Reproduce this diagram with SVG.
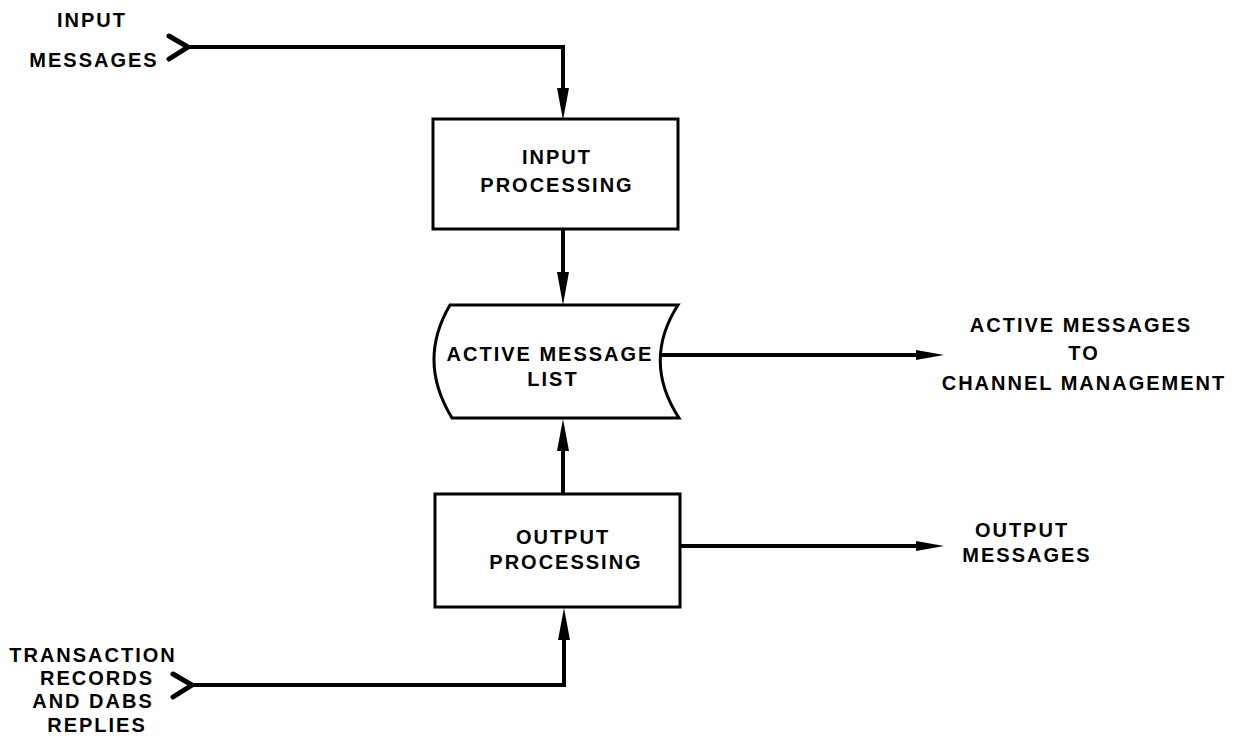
<svg xmlns="http://www.w3.org/2000/svg" width="1240" height="740" viewBox="0 0 1240 740">
<style>
.bg{fill:#ffffff}
.box{fill:#ffffff;stroke:#000;stroke-width:3}
.ln{fill:none;stroke:#000;stroke-width:4;stroke-linejoin:miter}
.chev{fill:none;stroke:#000;stroke-width:5;stroke-linecap:round;stroke-linejoin:miter}
.ah{fill:#000}
text{font-family:"Liberation Sans",Arial,sans-serif;font-weight:bold;font-size:20px;letter-spacing:2px;fill:#000;text-anchor:middle}
</style>
<rect class="bg" x="0" y="0" width="1240" height="740"/>
<g id="connectors">
  <path class="chev" d="M169,36 L188,47 L169,59"/>
  <path class="ln" d="M188,47 L563,47 L563,95"/>
  <polygon class="ah" points="563,120 557,88 569,88"/>
  <path class="ln" d="M563,229 L563,280"/>
  <polygon class="ah" points="563,305 557,272 569,272"/>
  <path class="ln" d="M563,494 L563,445"/>
  <polygon class="ah" points="563,419 557,451 569,451"/>
  <path class="ln" d="M660,355 L925,355"/>
  <polygon class="ah" points="944,355 916,350 916,360"/>
  <path class="ln" d="M680,546 L925,546"/>
  <polygon class="ah" points="944,546 916,541 916,551"/>
  <path class="chev" d="M173,674 L192,685 L173,697"/>
  <path class="ln" d="M192,685 L564,685 L564,635"/>
  <polygon class="ah" points="564,608 558,640 570,640"/>
</g>
<g id="input-messages-label">
  <text x="92" y="27">INPUT</text>
  <text x="94" y="67">MESSAGES</text>
</g>
<g id="input-processing">
  <rect class="box" x="433" y="119" width="245" height="110"/>
  <text x="557" y="164">INPUT</text>
  <text x="557" y="192">PROCESSING</text>
</g>
<g id="active-message-list">
  <path class="box" d="M450,305 L678,305 Q642,361 679,418 L452,418 Q417,361 450,305 Z"/>
  <text x="550" y="361">ACTIVE MESSAGE</text>
  <text x="553" y="386">LIST</text>
</g>
<g id="output-processing">
  <rect class="box" x="435" y="494" width="245" height="113"/>
  <text x="563" y="544">OUTPUT</text>
  <text x="566" y="569">PROCESSING</text>
</g>
<g id="active-messages-label">
  <text x="1081" y="332">ACTIVE MESSAGES</text>
  <text x="1084" y="360">TO</text>
  <text x="1084" y="390">CHANNEL MANAGEMENT</text>
</g>
<g id="output-messages-label">
  <text x="1022" y="537">OUTPUT</text>
  <text x="1027" y="562">MESSAGES</text>
</g>
<g id="transaction-label">
  <text x="93" y="662">TRANSACTION</text>
  <text x="97" y="685">RECORDS</text>
  <text x="93" y="708">AND DABS</text>
  <text x="97" y="732">REPLIES</text>
</g>
</svg>
